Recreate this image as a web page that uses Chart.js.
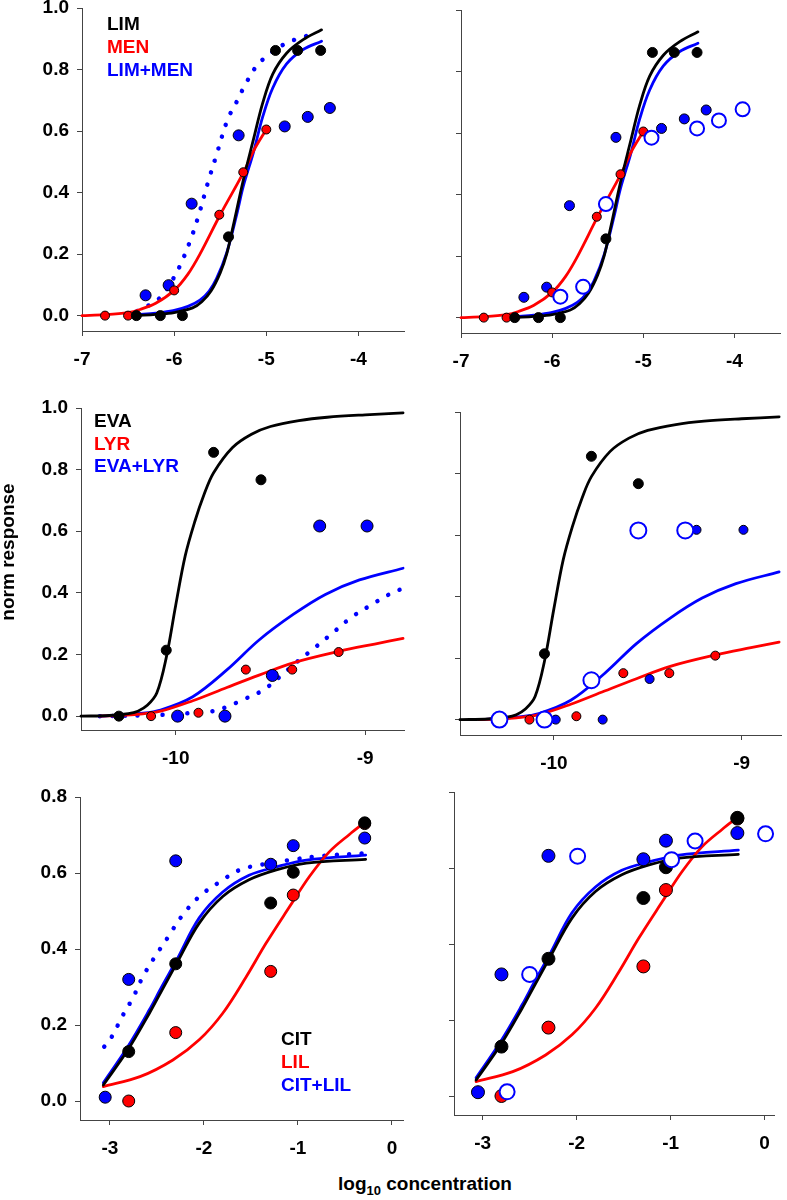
<!DOCTYPE html>
<html>
<head>
<meta charset="utf-8">
<script src="https://cdn.jsdelivr.net/npm/chart.js@4.4.0/dist/chart.umd.min.js"></script>
<style>
  body { margin: 0; background: #fff; width: 787px; height: 1200px; position: relative; overflow: hidden;
         font-family: "Liberation Sans", Arial, sans-serif; }
  canvas { position: absolute; }
  .title { position: absolute; font-weight: bold; font-size: 19px; line-height: 22px; color: #000; white-space: nowrap; }
  .title sub { font-size: 13px; vertical-align: -5px; line-height: 0; }
</style>
</head>
<body>
<canvas id="p1"></canvas>
<canvas id="p2"></canvas>
<canvas id="p3"></canvas>
<canvas id="p4"></canvas>
<canvas id="p5"></canvas>
<canvas id="p6"></canvas>
<div class="title" style="left:-92px; top:541px; width:200px; text-align:center; transform:rotate(-90deg);">norm response</div>
<div class="title" style="left:338px; top:1173px;">log<sub>10</sub> concentration</div>
<script>
// ---- data: [log10 conc, norm response] ----
// row 1: LIM / MEN
const limPts = [[-6.41,0],[-6.15,0],[-5.91,0],[-5.41,0.256],[-4.90,0.862],[-4.66,0.862],[-4.41,0.862]];
const menPts = [[-6.75,0],[-6.50,0],[-6.00,0.082],[-5.51,0.328],[-5.25,0.466],[-5.00,0.605]];
const limMenPts = [[-6.31,0.066],[-6.06,0.099],[-5.81,0.364],[-5.30,0.586],[-4.80,0.615],[-4.55,0.646],[-4.31,0.675]];
const limMenOpen = [[-5.91,0.068],[-5.66,0.10],[-5.41,0.369],[-4.91,0.585],[-4.41,0.615],[-4.17,0.641],[-3.91,0.677]];
const limFit = [[-6.4,0],[-6.2,0.004],[-6.0,0.01],[-5.8,0.025],[-5.7,0.045],[-5.6,0.08],[-5.5,0.139],[-5.43,0.2],[-5.36,0.29],[-5.25,0.44],[-5.14,0.572],[-5.04,0.69],[-4.93,0.785],[-4.78,0.853],[-4.6,0.897],[-4.4,0.929]];
const menFit = [[-7,0],[-6.75,0.003],[-6.5,0.01],[-6.37,0.02],[-6.2,0.04],[-6.0,0.082],[-5.85,0.135],[-5.72,0.2],[-5.5,0.328],[-5.25,0.464],[-5.13,0.54],[-5.0,0.605]];
const limMenFit = [[-6.4,0.003],[-6.2,0.008],[-6.01,0.016],[-5.85,0.03],[-5.72,0.05],[-5.62,0.08],[-5.54,0.12],[-5.43,0.204],[-5.32,0.33],[-5.25,0.42],[-5.14,0.53],[-5.04,0.645],[-4.93,0.74],[-4.78,0.818],[-4.6,0.865],[-4.4,0.892]];
const limMenPred = [[-6.4,0.015],[-6.23,0.041],[-6.13,0.065],[-6.03,0.11],[-5.94,0.16],[-5.83,0.24],[-5.74,0.32],[-5.63,0.436],[-5.54,0.523],[-5.42,0.637],[-5.32,0.696],[-5.23,0.75],[-5.11,0.81],[-5.02,0.837],[-4.82,0.88],[-4.64,0.902],[-4.44,0.919]];

// row 2: EVA / LYR
const evaPts = [[-10.30,0],[-10.05,0.214],[-9.80,0.856],[-9.55,0.767]];
const lyrPts = [[-10.13,0],[-9.88,0.011],[-9.63,0.151],[-9.385,0.151],[-9.14,0.208]];
const evaLyrPts = [[-9.99,0],[-9.74,0],[-9.49,0.132],[-9.24,0.617],[-8.99,0.617]];
const evaLyrOpen = [[-10.29,0],[-10.05,0],[-9.80,0.128],[-9.55,0.615],[-9.30,0.615]];
const evaFit = [[-10.5,0],[-10.35,0.002],[-10.25,0.008],[-10.2,0.016],[-10.15,0.035],[-10.1,0.075],[-10.05,0.19],[-10.0,0.36],[-9.95,0.52],[-9.9,0.63],[-9.85,0.72],[-9.8,0.79],[-9.7,0.872],[-9.6,0.915],[-9.5,0.94],[-9.35,0.959],[-9.2,0.97],[-9.0,0.978],[-8.8,0.984]];
const lyrFit = [[-10.4,0],[-10.3,0.002],[-10.2,0.006],[-10.08,0.016],[-9.91,0.05],[-9.73,0.093],[-9.56,0.133],[-9.38,0.173],[-9.14,0.21],[-8.95,0.234],[-8.8,0.252]];
const evaLyrFit = [[-10.4,0],[-10.3,0.003],[-10.2,0.008],[-10.08,0.02],[-9.91,0.063],[-9.73,0.15],[-9.56,0.247],[-9.38,0.33],[-9.21,0.395],[-9.03,0.442],[-8.8,0.48]];
const evaLyrPred = [[-10.4,0],[-10.08,0.004],[-9.92,0.01],[-9.82,0.014],[-9.73,0.03],[-9.65,0.052],[-9.54,0.084],[-9.45,0.128],[-9.36,0.176],[-9.26,0.225],[-9.16,0.276],[-9.07,0.322],[-8.97,0.36],[-8.88,0.393],[-8.8,0.415]];

// row 3: CIT / LIL
const citPts = [[-2.80,0.13],[-2.30,0.361],[-1.29,0.521],[-1.05,0.602],[-0.29,0.732]];
const lilPts = [[-2.80,0],[-2.30,0.18],[-1.29,0.341],[-1.05,0.542],[-0.29,0.73]];
const citLilPts = [[-3.05,0.01],[-2.80,0.32],[-2.30,0.632],[-1.29,0.623],[-1.05,0.672],[-0.29,0.692]];
const citLilOpen = [[-2.74,0.011],[-2.50,0.32],[-1.99,0.631],[-0.99,0.622],[-0.74,0.671],[0.01,0.69]];
const citFit = [[-3.07,0.042],[-2.81,0.134],[-2.58,0.231],[-2.45,0.29],[-2.29,0.362],[-2.05,0.468],[-1.8,0.538],[-1.52,0.582],[-1.23,0.608],[-0.91,0.626],[-0.28,0.636]];
const lilFit = [[-3.07,0.038],[-2.68,0.064],[-2.33,0.108],[-2.05,0.161],[-1.8,0.231],[-1.55,0.327],[-1.34,0.415],[-1.09,0.511],[-0.88,0.59],[-0.67,0.655],[-0.45,0.702],[-0.28,0.735]];
const citLilFit = [[-3.07,0.048],[-2.81,0.143],[-2.58,0.24],[-2.45,0.3],[-2.29,0.371],[-2.05,0.482],[-1.8,0.55],[-1.52,0.594],[-1.23,0.616],[-0.91,0.634],[-0.28,0.647]];
const citLilPred = [[-3.06,0.143],[-2.98,0.169],[-2.87,0.222],[-2.75,0.274],[-2.65,0.327],[-2.52,0.38],[-2.38,0.432],[-2.24,0.485],[-2.05,0.538],[-1.83,0.577],[-1.62,0.608],[-1.41,0.621],[-1.09,0.634],[-0.74,0.645],[-0.28,0.652]];

// ticks
const yTicksTop = [0, 0.2, 0.4, 0.6, 0.8, 1.0];
const yTicksBottom = [0, 0.2, 0.4, 0.6, 0.8];
const xTicksRow1 = [-7, -6, -5, -4];
const xTicksRow2 = [-10, -9];
const xTicksRow3 = [-3, -2, -1, 0];

const BLACK = '#000000', RED = '#ff0000', BLUE = '#0000ff';
const FONT = '"Liberation Sans", Arial, sans-serif';
Chart.defaults.font.family = FONT;

const AX = 80, PT = 24, XB = 48, PR = 6;

function xy(arr) { return arr.map(p => ({ x: p[0], y: p[1] })); }

function curve(arr, color, dotted) {
  return {
    data: xy(arr), showLine: true, borderColor: color, backgroundColor: color,
    borderWidth: dotted ? 4.5 : 2.8, borderDash: dotted ? [0.01, 12.5] : [],
    borderCapStyle: 'round', borderJoinStyle: 'round', tension: 0.35,
    pointRadius: 0, pointHoverRadius: 0, order: 3, clip: false
  };
}
function dots(arr, fill, r) {
  return {
    data: xy(arr), showLine: false, backgroundColor: fill, borderColor: '#000',
    borderWidth: 1, pointRadius: r, pointHoverRadius: r, order: 2, clip: false
  };
}
function rings(arr, r) {
  return {
    data: xy(arr), showLine: false, backgroundColor: '#fff', borderColor: BLUE,
    borderWidth: 2, pointRadius: r, pointHoverRadius: r, order: 1, clip: false
  };
}

function textLegend(lines, colors, dx, dy, gap) {
  return {
    id: 'textLegend',
    afterDatasetsDraw(chart) {
      const ctx = chart.ctx, a = chart.chartArea;
      ctx.save();
      ctx.font = 'bold 19px ' + FONT;
      ctx.textBaseline = 'middle';
      ctx.textAlign = 'left';
      lines.forEach((t, i) => {
        ctx.fillStyle = colors[i];
        ctx.fillText(t, a.left + dx, a.top + dy + i * gap);
      });
      ctx.restore();
    }
  };
}

function axis(min, max, ticks, showLabels, isX) {
  return {
    type: 'linear', min: min, max: max,
    afterBuildTicks: s => { s.ticks = ticks.map(v => ({ value: v })); },
    afterFit: s => { if (isX) s.height = XB; else s.width = AX; },
    grid: { display: true, drawOnChartArea: false, drawTicks: true, tickLength: 5, color: '#444', lineWidth: 1 },
    border: { display: true, color: '#444', width: 1 },
    ticks: {
      padding: isX ? 12 : 8, color: '#000', autoSkip: false, maxRotation: 0,
      font: { size: 19, weight: 'bold', family: FONT },
      callback: v => showLabels ? (isX ? String(v) : Number(v).toFixed(1)) : ''
    }
  };
}

function panel(id, box, xr, yr, xTicks, yTicks, showY, datasets, plugins) {
  const cv = document.getElementById(id);
  const w = AX + (box.r - box.l) + PR, h = PT + (box.b - box.t) + XB;
  cv.width = w; cv.height = h;
  cv.style.left = (box.l - AX) + 'px'; cv.style.top = (box.t - PT) + 'px';
  cv.style.width = w + 'px'; cv.style.height = h + 'px';
  return new Chart(cv.getContext('2d'), {
    type: 'scatter',
    data: { datasets: datasets },
    options: {
      responsive: false, animation: false, events: [],
      layout: { padding: { top: PT, right: PR, left: 0, bottom: 0 } },
      plugins: { legend: { display: false }, tooltip: { enabled: false } },
      scales: {
        x: axis(xr[0], xr[1], xTicks, true, true),
        y: axis(yr[0], yr[1], yTicks, showY, false)
      }
    },
    plugins: plugins || []
  });
}

// row 1
panel('p1', { l: 82, t: 8, r: 405, b: 331 }, [-7, -3.5], [-0.05, 1.0], xTicksRow1, yTicksTop, true, [
  dots(limPts, BLACK, 5), dots(menPts, RED, 4.5), dots(limMenPts, BLUE, 5.5),
  curve(limFit, BLACK), curve(menFit, RED), curve(limMenFit, BLUE), curve(limMenPred, BLUE, true)
], [textLegend(['LIM', 'MEN', 'LIM+MEN'], [BLACK, RED, BLUE], 25, 17, 23)]);

panel('p2', { l: 461, t: 10, r: 783, b: 333 }, [-7, -3.5], [-0.05, 1.0], xTicksRow1, yTicksTop, false, [
  rings(limMenOpen, 7),
  dots(limPts, BLACK, 5), dots(menPts, RED, 4.5), dots(limMenPts, BLUE, 5),
  curve(limFit, BLACK), curve(menFit, RED), curve(limMenFit, BLUE)
]);

// row 2
panel('p3', { l: 81, t: 408, r: 405, b: 730 }, [-10.5, -8.795], [-0.045, 1.0], xTicksRow2, yTicksTop, true, [
  dots(evaPts, BLACK, 5), dots(lyrPts, RED, 4.5), dots(evaLyrPts, BLUE, 6),
  curve(evaFit, BLACK), curve(lyrFit, RED), curve(evaLyrFit, BLUE), curve(evaLyrPred, BLUE, true)
], [textLegend(['EVA', 'LYR', 'EVA+LYR'], [BLACK, RED, BLUE], 13, 14, 22.5)]);

panel('p4', { l: 460, t: 412, r: 785, b: 735 }, [-10.5, -8.79], [-0.05, 1.0], xTicksRow2, yTicksTop, false, [
  rings(evaLyrOpen, 8),
  dots(evaPts, BLACK, 5), dots(lyrPts, RED, 4.5), dots(evaLyrPts, BLUE, 4.5),
  curve(evaFit, BLACK), curve(lyrFit, RED), curve(evaLyrFit, BLUE)
]);

// row 3
panel('p5', { l: 80, t: 797, r: 404, b: 1120 }, [-3.318, 0.117], [-0.05, 0.8], xTicksRow3, yTicksBottom, true, [
  dots(citLilPts, BLUE, 6), dots(citPts, BLACK, 6), dots(lilPts, RED, 6),
  curve(citFit, BLACK), curve(lilFit, RED), curve(citLilFit, BLUE), curve(citLilPred, BLUE, true)
], [textLegend(['CIT', 'LIL', 'CIT+LIL'], [BLACK, RED, BLUE], 201, 243, 23)]);

panel('p6', { l: 454, t: 792, r: 778, b: 1115 }, [-3.305, 0.105], [-0.05, 0.8], xTicksRow3, yTicksBottom, false, [
  rings(citLilOpen, 7.5),
  dots(citLilPts, BLUE, 6.5), dots(citPts, BLACK, 6.5), dots(lilPts, RED, 6.5),
  curve(citFit, BLACK), curve(lilFit, RED), curve(citLilFit, BLUE)
]);
</script>
</body>
</html>
